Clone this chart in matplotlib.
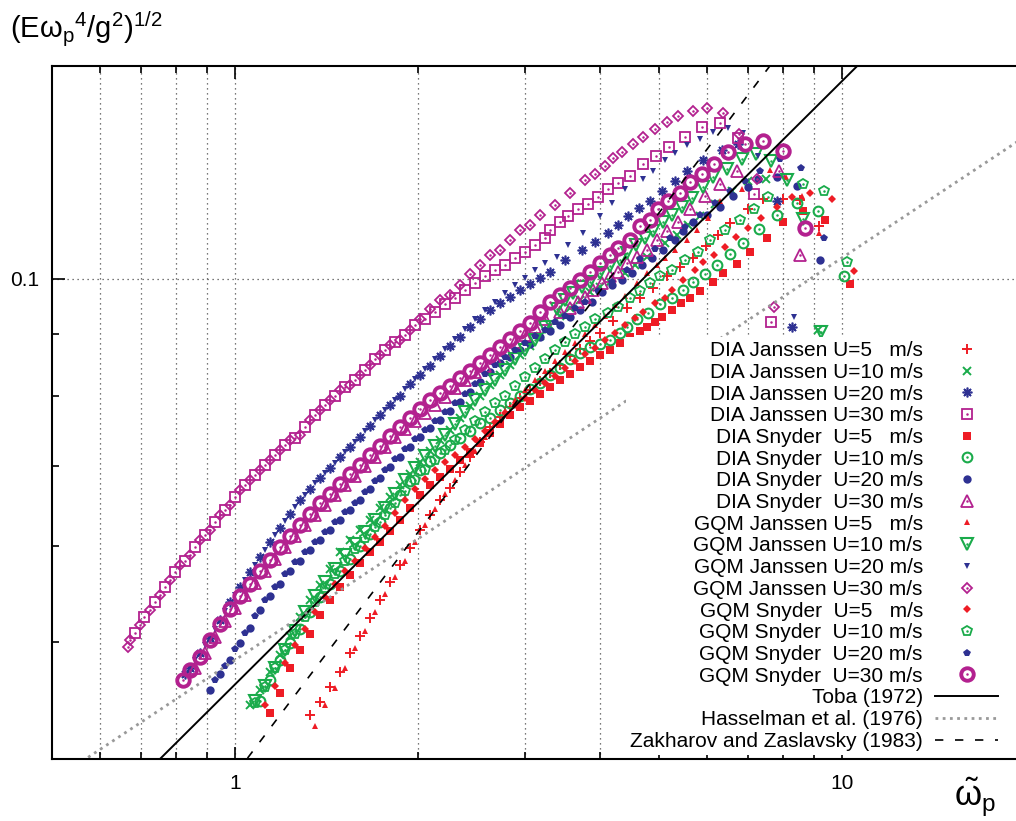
import numpy as np
import matplotlib
matplotlib.use('Agg')
import matplotlib.pyplot as plt
from matplotlib.ticker import FixedLocator, FixedFormatter, NullFormatter

plt.rcParams['font.family'] = ['Liberation Sans', 'DejaVu Sans']
plt.rcParams['mathtext.default'] = 'regular'

RED = '#ee1c25'
GREEN = '#1aab4b'
BLUE = '#2e3192'
MAGENTA = '#b3218f'

# ---------------- data ----------------
# DIA, Janssen
dia_jan5_x = [1.329, 1.380, 1.434, 1.489, 1.547, 1.607, 1.669, 1.734, 1.801, 1.870, 1.942, 2.018, 2.096, 2.177,
              2.261, 2.349, 2.439, 2.533, 2.631, 2.733, 2.838, 2.948, 3.062, 3.180, 3.303, 3.430, 3.563, 3.700,
              3.844, 3.993, 4.195, 4.423, 4.650, 4.882, 5.148, 5.410, 5.683, 5.970, 6.247, 6.54, 7.00, 7.411,
              8.000, 8.53, 9.165]
dia_jan5_y = [0.0435, 0.0446, 0.0459, 0.0472, 0.0490, 0.0506, 0.0523, 0.0542, 0.0561, 0.0579, 0.0598, 0.0619,
              0.0637, 0.0655, 0.0671, 0.0692, 0.0711, 0.0732, 0.0753, 0.0768, 0.0783, 0.0797, 0.0809, 0.0822,
              0.0836, 0.0848, 0.0862, 0.0875, 0.0888, 0.0902, 0.0923, 0.0945, 0.0964, 0.0983, 0.1004, 0.1023,
              0.1041, 0.1065, 0.1087, 0.1111, 0.1141, 0.1165, 0.1165, 0.1161, 0.1106]

dia_jan10_x = [1.058, 1.099, 1.142, 1.186, 1.232, 1.280, 1.329, 1.380, 1.434, 1.489, 1.547, 1.607, 1.669, 1.734,
               1.801, 1.870, 1.942, 2.018, 2.096, 2.177, 2.261, 2.349, 2.439, 2.533, 2.631, 2.733, 2.838, 2.948,
               3.062, 3.180, 3.303, 3.430, 3.563, 3.700, 3.844, 3.993, 4.148, 4.390, 4.560, 4.772, 5.109, 5.349,
               5.577, 5.840, 6.177, 6.589, 7.000, 7.495, 9.131]
dia_jan10_y = [0.0443, 0.0456, 0.0472, 0.0488, 0.0506, 0.0524, 0.0542, 0.0557, 0.0575, 0.0594, 0.0607, 0.0619,
               0.0631, 0.0645, 0.0659, 0.0674, 0.0689, 0.0705, 0.0720, 0.0735, 0.0749, 0.0767, 0.0785, 0.0800,
               0.0816, 0.0832, 0.0848, 0.0865, 0.0880, 0.0897, 0.0914, 0.0932, 0.0946, 0.0960, 0.0974, 0.0985,
               0.0994, 0.1011, 0.1027, 0.1043, 0.1071, 0.1087, 0.1108, 0.1126, 0.1152, 0.1181, 0.1204, 0.1209,
               0.0907]

dia_jan20_x = [0.827, 0.843, 0.876, 0.910, 0.945, 0.981, 1.019, 1.058, 1.099, 1.142, 1.186, 1.232, 1.280, 1.329,
               1.380, 1.434, 1.489, 1.547, 1.607, 1.669, 1.734, 1.801, 1.870, 1.942, 2.018, 2.096, 2.177, 2.261,
               2.349, 2.439, 2.533, 2.631, 2.733, 2.838, 2.948, 3.062, 3.180, 3.303, 3.498, 3.730, 3.918, 4.117,
               4.276, 4.440, 4.629, 4.828, 5.051, 5.308, 5.556, 5.902, 6.343, 6.743, 7.815, 8.271]
dia_jan20_y = [0.0470, 0.0476, 0.0490, 0.0504, 0.0521, 0.0540, 0.0555, 0.0571, 0.0588, 0.0605, 0.0621, 0.0638,
               0.0655, 0.0669, 0.0684, 0.0697, 0.0711, 0.0725, 0.0739, 0.0755, 0.0771, 0.0786, 0.0800, 0.0818,
               0.0832, 0.0847, 0.0863, 0.0880, 0.0895, 0.0911, 0.0925, 0.0941, 0.0955, 0.0966, 0.0979, 0.0990,
               0.1002, 0.1013, 0.1037, 0.1057, 0.1073, 0.1091, 0.1108, 0.1126, 0.1145, 0.1159, 0.1181, 0.1204,
               0.1228, 0.1253, 0.1279, 0.1292, 0.1159, 0.0912]

dia_jan30_x = [0.684, 0.710, 0.738, 0.766, 0.796, 0.827, 0.859, 0.893, 0.927, 0.963, 1.000, 1.039, 1.079, 1.120,
               1.164, 1.209, 1.256, 1.304, 1.354, 1.407, 1.461, 1.518, 1.576, 1.637, 1.701, 1.767, 1.835, 1.906,
               1.979, 2.056, 2.135, 2.218, 2.304, 2.393, 2.486, 2.582, 2.682, 2.786, 2.893, 3.005, 3.121, 3.241,
               3.303, 3.430, 3.537, 3.674, 3.815, 3.963, 4.117, 4.276, 4.474, 4.701, 4.939, 5.188, 5.513, 5.881,
               6.30, 6.743, 7.161, 7.638]
dia_jan30_y = [0.0509, 0.0524, 0.0540, 0.0555, 0.0571, 0.0584, 0.0599, 0.0613, 0.0629, 0.0643, 0.0659, 0.0674,
               0.0688, 0.0701, 0.0714, 0.0728, 0.0738, 0.0753, 0.0771, 0.0786, 0.0800, 0.0813, 0.0824, 0.0840,
               0.0857, 0.0873, 0.0886, 0.0898, 0.0916, 0.0925, 0.0938, 0.0952, 0.0964, 0.0979, 0.0992, 0.1004,
               0.1017, 0.1027, 0.1041, 0.1053, 0.1067, 0.1081, 0.1098, 0.1113, 0.1126, 0.1141, 0.1152, 0.1168,
               0.1186, 0.1199, 0.1215, 0.1244, 0.1263, 0.1286, 0.1309, 0.1335, 0.1345, 0.1307, 0.1175, 0.0921]

# DIA, Snyder
dia_sny5_x = [1.142, 1.186, 1.232, 1.280, 1.329, 1.380, 1.434, 1.489, 1.547, 1.607, 1.669, 1.734, 1.801, 1.870,
              1.942, 2.018, 2.096, 2.177, 2.261, 2.349, 2.439, 2.533, 2.631, 2.733, 2.838, 2.948, 3.062, 3.180,
              3.303, 3.430, 3.563, 3.700, 3.844, 3.993, 4.148, 4.310, 4.474, 4.650, 4.772, 4.920, 5.051, 5.248,
              5.431, 5.618, 5.840, 6.131, 6.368, 6.714, 7.05, 7.522, 7.993, 8.626, 9.376, 10.31]
dia_sny5_y = [0.0437, 0.0454, 0.0476, 0.0492, 0.0508, 0.0526, 0.0542, 0.0555, 0.0568, 0.0581, 0.0594, 0.0605,
              0.0618, 0.0631, 0.0646, 0.0662, 0.0674, 0.0685, 0.0696, 0.0708, 0.0719, 0.0731, 0.0745, 0.0758,
              0.0771, 0.0783, 0.0792, 0.0802, 0.0813, 0.0824, 0.0834, 0.0845, 0.0855, 0.0865, 0.0873, 0.0885,
              0.0895, 0.0905, 0.0912, 0.0921, 0.0930, 0.0941, 0.0954, 0.0963, 0.0976, 0.0994, 0.1011, 0.1029,
              0.1053, 0.1081, 0.1113, 0.1137, 0.1119, 0.0990]

dia_sny10_x = [1.099, 1.142, 1.186, 1.232, 1.280, 1.329, 1.380, 1.434, 1.489, 1.547, 1.607, 1.669, 1.734, 1.801,
               1.870, 1.942, 2.018, 2.096, 2.177, 2.261, 2.349, 2.439, 2.533, 2.631, 2.733, 2.838, 2.948, 3.062,
               3.180, 3.303, 3.430, 3.563, 3.700, 3.844, 3.993, 4.148, 4.310, 4.423, 4.594, 4.790, 5.015, 5.248,
               5.472, 5.683, 5.947, 6.224, 6.54, 6.869, 7.299, 7.815, 8.431, 9.131, 10.08]
dia_sny10_y = [0.0447, 0.0465, 0.0483, 0.0499, 0.0513, 0.0529, 0.0545, 0.0559, 0.0573, 0.0586, 0.0600, 0.0614,
               0.0629, 0.0645, 0.0662, 0.0680, 0.0694, 0.0706, 0.0717, 0.0728, 0.0738, 0.0748, 0.0759, 0.0767,
               0.0779, 0.0789, 0.0799, 0.0810, 0.0819, 0.0832, 0.0843, 0.0857, 0.0868, 0.0878, 0.0883, 0.0890,
               0.0901, 0.0912, 0.0925, 0.0937, 0.0952, 0.0964, 0.0979, 0.0994, 0.1008, 0.1027, 0.1049, 0.1071,
               0.1100, 0.1130, 0.1156, 0.1137, 0.1004]

dia_sny20_x = [0.910, 0.945, 0.981, 1.019, 1.058, 1.099, 1.142, 1.186, 1.232, 1.280, 1.329, 1.380, 1.434, 1.489,
               1.547, 1.607, 1.669, 1.734, 1.801, 1.870, 1.942, 2.018, 2.096, 2.177, 2.261, 2.349, 2.439, 2.533,
               2.631, 2.733, 2.838, 2.948, 3.062, 3.180, 3.303, 3.430, 3.563, 3.700, 3.873, 4.024, 4.179, 4.341,
               4.508, 4.682, 4.864, 5.072, 5.308, 5.472, 5.683, 5.993, 6.30, 6.613, 7.00, 7.271, 7.815, 8.431, 9.21]
dia_sny20_y = [0.0456, 0.0470, 0.0483, 0.0499, 0.0514, 0.0531, 0.0546, 0.0559, 0.0573, 0.0584, 0.0596, 0.0607,
               0.0619, 0.0631, 0.0643, 0.0655, 0.0669, 0.0684, 0.0698, 0.0711, 0.0725, 0.0739, 0.0752, 0.0764,
               0.0777, 0.0791, 0.0806, 0.0821, 0.0837, 0.0851, 0.0861, 0.0873, 0.0883, 0.0895, 0.0905, 0.0916,
               0.0929, 0.0941, 0.0957, 0.0974, 0.0988, 0.0998, 0.1011, 0.1027, 0.1041, 0.1057, 0.1077, 0.1094,
               0.1113, 0.1130, 0.1146, 0.1170, 0.1190, 0.1209, 0.1213, 0.1193, 0.1037]

dia_sny30_x = [0.859, 0.893, 0.927, 0.963, 1.000, 1.039, 1.079, 1.120, 1.164, 1.209, 1.256, 1.304, 1.354, 1.407,
               1.461, 1.518, 1.576, 1.637, 1.701, 1.767, 1.835, 1.906, 1.979, 2.056, 2.135, 2.218, 2.304, 2.393,
               2.486, 2.582, 2.682, 2.786, 2.893, 3.005, 3.121, 3.241, 3.430, 3.563, 3.674, 3.772, 3.888, 4.024,
               4.148, 4.276, 4.423, 4.594, 4.772, 4.957, 5.148, 5.368, 5.618, 5.947, 6.30, 6.714, 7.875, 8.53]
dia_sny30_y = [0.0476, 0.0490, 0.0505, 0.0520, 0.0533, 0.0547, 0.0560, 0.0573, 0.0586, 0.0599, 0.0612, 0.0625,
               0.0637, 0.0649, 0.0662, 0.0674, 0.0686, 0.0700, 0.0711, 0.0725, 0.0739, 0.0750, 0.0762, 0.0774,
               0.0786, 0.0798, 0.0812, 0.0824, 0.0837, 0.0847, 0.0860, 0.0873, 0.0886, 0.0898, 0.0911, 0.0925,
               0.0938, 0.0946, 0.0957, 0.0966, 0.0979, 0.0992, 0.1004, 0.1013, 0.1031, 0.1043, 0.1057, 0.1077,
               0.1094, 0.1115, 0.1141, 0.1170, 0.1197, 0.1228, 0.1228, 0.1047]

# GQM, Janssen
gqm_jan5_x = [1.354, 1.407, 1.461, 1.518, 1.576, 1.637, 1.701, 1.767, 1.835, 1.906, 1.979, 2.056, 2.135, 2.218,
              2.304, 2.393, 2.486, 2.582, 2.682, 2.786, 2.893, 3.005, 3.121, 3.241, 3.366, 3.496, 3.631, 3.771,
              3.918, 4.070, 4.228, 4.391, 4.594, 4.772, 4.957, 5.109, 5.308, 5.556, 5.769, 6.015, 6.30, 6.843,
              7.61, 8.085, 8.593, 9.165]
gqm_jan5_y = [0.0426, 0.0443, 0.0458, 0.0476, 0.0494, 0.0511, 0.0529, 0.0548, 0.0566, 0.0584, 0.0605, 0.0625,
              0.0644, 0.0663, 0.0681, 0.0701, 0.0720, 0.0739, 0.0759, 0.0777, 0.0794, 0.0809, 0.0824, 0.0838,
              0.0855, 0.0870, 0.0885, 0.0900, 0.0916, 0.0932, 0.0950, 0.0968, 0.0992, 0.1011, 0.1027, 0.1041,
              0.1057, 0.1077, 0.1098, 0.1123, 0.1159, 0.1186, 0.1230, 0.1213, 0.1170, 0.1090]

gqm_jan10_x = [1.079, 1.120, 1.164, 1.209, 1.256, 1.304, 1.354, 1.407, 1.461, 1.518, 1.576, 1.637, 1.701, 1.767,
               1.835, 1.906, 1.979, 2.056, 2.135, 2.218, 2.304, 2.393, 2.486, 2.582, 2.682, 2.786, 2.893, 3.005,
               3.121, 3.241, 3.392, 3.498, 3.605, 3.730, 3.844, 3.993, 4.148, 4.310, 4.423, 4.576, 4.736, 4.882,
               5.072, 5.248, 5.451, 5.662, 5.902, 6.131, 6.465, 6.843, 7.216, 7.638, 8.116, 8.626, 9.236]
gqm_jan10_y = [0.0447, 0.0460, 0.0476, 0.0492, 0.0511, 0.0529, 0.0546, 0.0561, 0.0575, 0.0590, 0.0603, 0.0617,
               0.0631, 0.0645, 0.0663, 0.0681, 0.0697, 0.0713, 0.0727, 0.0742, 0.0758, 0.0776, 0.0794, 0.0809,
               0.0824, 0.0840, 0.0857, 0.0873, 0.0890, 0.0911, 0.0943, 0.0960, 0.0972, 0.0985, 0.0994, 0.1010,
               0.1025, 0.1037, 0.1051, 0.1067, 0.1081, 0.1094, 0.1113, 0.1130, 0.1146, 0.1167, 0.1190, 0.1213,
               0.1232, 0.1256, 0.1268, 0.1251, 0.1206, 0.1121, 0.0904]

gqm_jan20_x = [0.859, 0.893, 0.927, 0.963, 1.000, 1.039, 1.079, 1.120, 1.164, 1.209, 1.256, 1.304, 1.354, 1.407,
               1.461, 1.518, 1.576, 1.637, 1.701, 1.767, 1.835, 1.906, 1.979, 2.056, 2.135, 2.218, 2.304, 2.393,
               2.486, 2.582, 2.682, 2.786, 2.893, 3.005, 3.121, 3.241, 3.392, 3.537, 3.744, 3.993, 4.179, 4.390,
               4.701, 4.882, 5.109, 5.308, 5.556, 5.840, 6.131, 6.490, 6.869, 7.271, 8.334]
gqm_jan20_y = [0.0483, 0.0497, 0.0513, 0.0530, 0.0547, 0.0563, 0.0579, 0.0596, 0.0613, 0.0630, 0.0647, 0.0662,
               0.0677, 0.0690, 0.0704, 0.0718, 0.0732, 0.0748, 0.0764, 0.0779, 0.0794, 0.0810, 0.0826, 0.0842,
               0.0858, 0.0875, 0.0891, 0.0909, 0.0925, 0.0941, 0.0957, 0.0972, 0.0988, 0.1002, 0.1017, 0.1031,
               0.1043, 0.1067, 0.1091, 0.1126, 0.1156, 0.1186, 0.1209, 0.1228, 0.1253, 0.1270, 0.1289, 0.1306,
               0.1323, 0.1332, 0.1321, 0.1263, 0.0929]

gqm_jan30_x = [0.666, 0.671, 0.697, 0.724, 0.752, 0.781, 0.812, 0.843, 0.876, 0.910, 0.945, 0.981, 1.019, 1.058,
               1.099, 1.142, 1.186, 1.232, 1.280, 1.329, 1.380, 1.434, 1.489, 1.547, 1.607, 1.669, 1.734, 1.801,
               1.870, 1.942, 2.018, 2.096, 2.177, 2.261, 2.349, 2.439, 2.533, 2.631, 2.733, 2.838, 2.948, 3.062,
               3.180, 3.366, 3.563, 3.772, 3.918, 4.069, 4.195, 4.341, 4.525, 4.701, 4.920, 5.148, 5.368, 5.683,
               5.993, 6.368, 6.766, 7.244, 7.727]
gqm_jan30_y = [0.0495, 0.0502, 0.0516, 0.0531, 0.0547, 0.0563, 0.0579, 0.0590, 0.0607, 0.0619, 0.0637, 0.0649,
               0.0668, 0.0681, 0.0694, 0.0708, 0.0721, 0.0735, 0.0742, 0.0764, 0.0779, 0.0794, 0.0809, 0.0816,
               0.0832, 0.0848, 0.0865, 0.0881, 0.0890, 0.0907, 0.0925, 0.0943, 0.0960, 0.0970, 0.0988, 0.1008,
               0.1027, 0.1047, 0.1057, 0.1077, 0.1098, 0.1108, 0.1130, 0.1151, 0.1178, 0.1206, 0.1220, 0.1239,
               0.1258, 0.1272, 0.1292, 0.1309, 0.1330, 0.1348, 0.1363, 0.1376, 0.1384, 0.1371, 0.1317, 0.1209,
               0.0948]

# GQM, Snyder
gqm_sny5_x = [1.120, 1.164, 1.209, 1.256, 1.304, 1.354, 1.407, 1.461, 1.518, 1.576, 1.637, 1.701, 1.767, 1.835,
              1.906, 1.979, 2.056, 2.135, 2.218, 2.304, 2.393, 2.486, 2.582, 2.682, 2.786, 2.893, 3.005, 3.121,
              3.241, 3.366, 3.496, 3.631, 3.771, 3.918, 4.070, 4.228, 4.390, 4.560, 4.701, 4.920, 5.109, 5.248,
              5.472, 5.726, 5.902, 6.153, 6.415, 6.689, 7.000, 7.355, 7.815, 8.271, 8.86, 9.627, 10.47]
gqm_sny5_y = [0.0443, 0.0460, 0.0480, 0.0497, 0.0513, 0.0529, 0.0545, 0.0558, 0.0572, 0.0584, 0.0598, 0.0611,
              0.0624, 0.0639, 0.0655, 0.0670, 0.0682, 0.0694, 0.0705, 0.0714, 0.0725, 0.0736, 0.0748, 0.0761,
              0.0774, 0.0786, 0.0797, 0.0809, 0.0819, 0.0831, 0.0843, 0.0855, 0.0866, 0.0876, 0.0890, 0.0901,
              0.0916, 0.0928, 0.0939, 0.0955, 0.0964, 0.0979, 0.0998, 0.1017, 0.1033, 0.1047, 0.1063, 0.1083,
              0.1102, 0.1123, 0.1146, 0.1168, 0.1178, 0.1165, 0.1015]

gqm_sny10_x = [1.079, 1.120, 1.164, 1.209, 1.256, 1.304, 1.354, 1.407, 1.461, 1.518, 1.576, 1.637, 1.701, 1.767,
               1.835, 1.906, 1.979, 2.056, 2.135, 2.218, 2.304, 2.393, 2.486, 2.582, 2.682, 2.786, 2.893, 3.005,
               3.121, 3.241, 3.366, 3.496, 3.631, 3.771, 3.918, 4.117, 4.276, 4.474, 4.650, 4.828, 5.015, 5.248,
               5.512, 5.792, 6.06, 6.415, 6.79, 7.161, 7.552, 8.626, 9.340, 10.19]
gqm_sny10_y = [0.0445, 0.0459, 0.0476, 0.0492, 0.0508, 0.0524, 0.0540, 0.0554, 0.0569, 0.0583, 0.0597, 0.0610,
               0.0623, 0.0637, 0.0652, 0.0667, 0.0681, 0.0694, 0.0708, 0.0721, 0.0735, 0.0749, 0.0762, 0.0776,
               0.0789, 0.0800, 0.0815, 0.0829, 0.0843, 0.0858, 0.0873, 0.0886, 0.0900, 0.0912, 0.0925, 0.0937,
               0.0948, 0.0964, 0.0976, 0.0992, 0.1004, 0.1017, 0.1037, 0.1053, 0.1077, 0.1098, 0.1119, 0.1141,
               0.1168, 0.1197, 0.1181, 0.1033]

gqm_sny20_x = [0.927, 0.963, 1.000, 1.039, 1.079, 1.120, 1.164, 1.209, 1.256, 1.304, 1.354, 1.407, 1.461, 1.518,
               1.576, 1.637, 1.701, 1.767, 1.835, 1.906, 1.979, 2.056, 2.135, 2.218, 2.304, 2.393, 2.486, 2.582,
               2.682, 2.786, 2.893, 3.005, 3.121, 3.241, 3.366, 3.496, 3.631, 3.771, 3.963, 4.179, 4.423, 4.650,
               4.920, 5.207, 5.512, 5.840, 6.177, 6.54, 6.921, 7.33, 7.91, 8.561, 9.340]
gqm_sny20_y = [0.0465, 0.0478, 0.0493, 0.0509, 0.0525, 0.0542, 0.0555, 0.0569, 0.0582, 0.0594, 0.0605, 0.0617,
               0.0629, 0.0641, 0.0652, 0.0665, 0.0680, 0.0694, 0.0709, 0.0722, 0.0736, 0.0749, 0.0762, 0.0776,
               0.0789, 0.0802, 0.0818, 0.0834, 0.0848, 0.0861, 0.0873, 0.0885, 0.0897, 0.0907, 0.0920, 0.0932,
               0.0945, 0.0957, 0.0976, 0.0994, 0.1017, 0.1039, 0.1059, 0.1081, 0.1104, 0.1130, 0.1156, 0.1181,
               0.1204, 0.1228, 0.1256, 0.1235, 0.1081]

gqm_sny30_x = [0.821, 0.843, 0.876, 0.910, 0.945, 0.981, 1.019, 1.058, 1.099, 1.142, 1.186, 1.232, 1.280, 1.329,
               1.380, 1.434, 1.489, 1.547, 1.607, 1.669, 1.734, 1.801, 1.870, 1.942, 2.018, 2.096, 2.177, 2.261,
               2.349, 2.439, 2.533, 2.631, 2.733, 2.838, 2.948, 3.062, 3.180, 3.303, 3.430, 3.563, 3.700, 3.844,
               3.993, 4.148, 4.276, 4.474, 4.650, 4.828, 4.977, 5.168, 5.410, 5.618, 5.881, 6.153, 6.490, 6.921,
               7.411, 7.993, 8.690]
gqm_sny30_y = [0.0465, 0.0474, 0.0486, 0.0502, 0.0517, 0.0532, 0.0546, 0.0559, 0.0572, 0.0585, 0.0599, 0.0612,
               0.0625, 0.0638, 0.0652, 0.0663, 0.0676, 0.0689, 0.0701, 0.0714, 0.0727, 0.0741, 0.0753, 0.0767,
               0.0780, 0.0794, 0.0804, 0.0815, 0.0827, 0.0838, 0.0851, 0.0865, 0.0878, 0.0892, 0.0905, 0.0919,
               0.0939, 0.0957, 0.0970, 0.0983, 0.0998, 0.1013, 0.1031, 0.1047, 0.1061, 0.1077, 0.1105, 0.1119,
               0.1141, 0.1159, 0.1178, 0.1202, 0.1220, 0.1244, 0.1272, 0.1292, 0.1299, 0.1275, 0.1102]

# reference laws  y = a * x**b
toba_a, toba_b = 0.0461, 1 / 2
hass_a, hass_b = 0.0483, 1 / 3
zz_a, zz_b = 0.0388, 2 / 3

labels = ['DIA Janssen U=5   m/s', 'DIA Janssen U=10 m/s', 'DIA Janssen U=20 m/s', 'DIA Janssen U=30 m/s',
          'DIA Snyder  U=5   m/s', 'DIA Snyder  U=10 m/s', 'DIA Snyder  U=20 m/s', 'DIA Snyder  U=30 m/s',
          'GQM Janssen U=5   m/s', 'GQM Janssen U=10 m/s', 'GQM Janssen U=20 m/s', 'GQM Janssen U=30 m/s',
          'GQM Snyder  U=5   m/s', 'GQM Snyder  U=10 m/s', 'GQM Snyder  U=20 m/s', 'GQM Snyder  U=30 m/s']

# (x, y, colour, marker, size, hollow, edge width)
series = [
    (dia_jan5_x, dia_jan5_y, RED, '+', 7, False, 1.4),
    (dia_jan10_x, dia_jan10_y, GREEN, 'x', 5.5, False, 1.4),
    (dia_jan20_x, dia_jan20_y, BLUE, (8, 2, 0), 7, False, 1.2),
    (dia_jan30_x, dia_jan30_y, MAGENTA, 's', 7, True, 1.3),
    (dia_sny5_x, dia_sny5_y, RED, 's', 6.3, False, 0),
    (dia_sny10_x, dia_sny10_y, GREEN, 'o', 7, True, 1.5),
    (dia_sny20_x, dia_sny20_y, BLUE, 'o', 6, False, 0),
    (dia_sny30_x, dia_sny30_y, MAGENTA, '^', 8.5, True, 1.3),
    (gqm_jan5_x, gqm_jan5_y, RED, '^', 5, False, 0),
    (gqm_jan10_x, gqm_jan10_y, GREEN, 'v', 8.5, True, 1.5),
    (gqm_jan20_x, gqm_jan20_y, BLUE, 'v', 5, False, 0),
    (gqm_jan30_x, gqm_jan30_y, MAGENTA, 'D', 5.5, True, 1.3),
    (gqm_sny5_x, gqm_sny5_y, RED, 'D', 4.5, False, 0),
    (gqm_sny10_x, gqm_sny10_y, GREEN, 'p', 7, True, 1.3),
    (gqm_sny20_x, gqm_sny20_y, BLUE, 'p', 5.5, False, 0),
    (gqm_sny30_x, gqm_sny30_y, MAGENTA, 'o', 9, True, 2.8),
]

fig = plt.figure(figsize=(10.16, 8.21), dpi=100)
ax = fig.add_axes([52 / 1016, 62 / 821, 973 / 1016, 693 / 821])
ax.set_xscale('log')
ax.set_yscale('log')
ax.set_xlim(0.5, 20)
ax.set_ylim(0.04, 0.15)

handles = []
for xs, ys, col, mk, ms, hollow, mew in series:
    if hollow:
        h1, = ax.plot(xs, ys, ls='none', marker=mk, ms=ms, mfc='none', mec=col, mew=mew)
        h2, = ax.plot(xs, ys, ls='none', marker='o', ms=1.8, mfc=col, mec=col, mew=0)
        handles.append((h1, h2))
    else:
        h, = ax.plot(xs, ys, ls='none', marker=mk, ms=ms, color=col, mew=mew)
        handles.append(h)

xl = np.array([0.5, 20.0])
h_toba, = ax.plot(xl, toba_a * xl ** toba_b, color='black', lw=1.4)
h_hass, = ax.plot(xl, hass_a * xl ** hass_b, color='#999999', lw=2.0, ls=(0, (1, 1.6)))
h_zz, = ax.plot(xl, zz_a * xl ** zz_b, color='black', lw=1.2, ls=(0, (5, 7)))
handles += [h_toba, h_hass, h_zz]
labels += ['Toba (1972)', 'Hasselman et al. (1976)', 'Zakharov and Zaslavsky (1983)']

# axes, ticks, grid
ax.xaxis.set_major_locator(FixedLocator([1, 10]))
ax.xaxis.set_major_formatter(FixedFormatter(['1', '10']))
ax.xaxis.set_minor_locator(FixedLocator([0.6, 0.7, 0.8, 0.9, 2, 3, 4, 5, 6, 7, 8, 9, 20]))
ax.xaxis.set_minor_formatter(NullFormatter())
ax.yaxis.set_major_locator(FixedLocator([0.1]))
ax.yaxis.set_major_formatter(FixedFormatter(['0.1']))
ax.yaxis.set_minor_locator(FixedLocator([0.04, 0.05, 0.06, 0.07, 0.08, 0.09]))
ax.yaxis.set_minor_formatter(NullFormatter())
ax.tick_params(which='both', direction='in', top=True, right=False, width=1.2, labelsize=15, colors='black')
ax.tick_params(axis='x', which='major', length=9, pad=11)
ax.tick_params(axis='y', which='major', length=9, pad=9)
ax.tick_params(which='minor', length=5)
for s in ax.spines.values():
    s.set_linewidth(1.5)
ax.grid(True, which='both', axis='x', color='0.3', lw=0.9, ls=(0, (1, 3)))
ax.grid(True, which='major', axis='y', color='0.3', lw=0.9, ls=(0, (1, 3)))
ax.set_axisbelow(True)

leg = ax.legend(handles, labels, loc='lower right', bbox_to_anchor=(1002 / 1016, 66 / 821),
                bbox_transform=fig.transFigure, markerfirst=False, numpoints=1, fontsize=15,
                handlelength=3.0, handletextpad=0.6, labelspacing=0.13, borderpad=0.2,
                borderaxespad=0, frameon=True, fancybox=False, framealpha=1)
leg.get_frame().set_edgecolor('none')
leg.get_frame().set_facecolor('white')

fig.text(10 / 1016, 1 - 38 / 821, r'$(E\omega_p{}^4/g^2)^{1/2}$', fontsize=21, va='baseline')
fig.text(975 / 1016, 1 - 806 / 821, r'$\tilde{\omega}_p$', fontsize=25, ha='center', va='baseline')

fig.savefig('out.png', dpi=100)
